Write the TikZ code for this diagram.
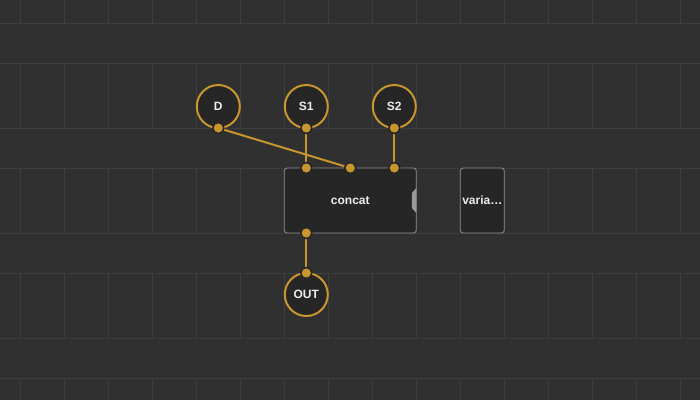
\documentclass[tikz,border=0pt]{standalone}
\usepackage{fontspec}
\setmainfont{Liberation Sans}
\usetikzlibrary{backgrounds}

\definecolor{board}{HTML}{303030}
\definecolor{gridline}{HTML}{3E3E3E}
\definecolor{gold}{HTML}{C8962E}
\definecolor{nodefill}{HTML}{262626}
\definecolor{label}{HTML}{EDEDED}
\definecolor{frame}{HTML}{8E8E8E}
\definecolor{tabgray}{HTML}{9A9A9A}

\pgfdeclarelayer{wires}
\pgfsetlayers{background,wires,main}

\begin{document}
\begin{tikzpicture}[x=1pt, y=-1pt,
  term/.style={circle, draw=gold, line width=2pt, fill=nodefill, minimum size=43pt,
    inner sep=0pt, text=label, font=\bfseries\fontsize{12}{14}\selectfont},
  patch/.style={rectangle, rounded corners=3pt, draw=frame, line width=0.8pt, fill=nodefill,
    minimum height=65pt, inner sep=0pt, text=label, font=\bfseries\fontsize{12}{14}\selectfont},
  pinpt/.style={circle, fill=gold, draw=nodefill, line width=1.5pt, minimum size=11pt, inner sep=0pt},
  wire/.style={gold, line width=2pt}]

\useasboundingbox (0,0) rectangle (700,400);

% Board
\begin{scope}[on background layer]
\fill[board] (0,0) rectangle (700,400);
\foreach \y in {23,63,128,168,233,273,338,378}
  \draw[gridline, line width=1pt] (0,\y) -- (700,\y);
\foreach \ya/\yb in {0/23,63/128,168/233,273/338,378/400}
  \foreach \k in {0,...,15}
    \draw[gridline, line width=1pt] ({20.3+44*\k},\ya) -- ({20.3+44*\k},\yb);
\end{scope}

% Terminals
\node[term] (D)  at (218.3,106.5) {D};
\node[term] (S1) at (306.3,106.5) {S1};
\node[term] (S2) at (394.3,106.5) {S2};
\node[term] (OUT) at (306.3,294.5) {OUT};

% Patch nodes
\node[patch, minimum width=132pt] (concat) at (350.3,200.5) {concat};
\fill[tabgray] (416.3,188) -- (411.8,193) -- (411.8,208) -- (416.3,213) -- cycle;
\node[patch, minimum width=44pt] (varia) at (482.3,200.5) {varia…};

% Pins
\node[pinpt] (dpin)  at (218.3,128) {};
\node[pinpt] (s1pin) at (306.3,128) {};
\node[pinpt] (s2pin) at (394.3,128) {};
\node[pinpt] (cin1)  at (306.3,168) {};
\node[pinpt] (cin2)  at (350.3,168) {};
\node[pinpt] (cin3)  at (394.3,168) {};
\node[pinpt] (cout)  at (306.3,233) {};
\node[pinpt] (opin)  at (306.3,273) {};

% Wires
\begin{pgfonlayer}{wires}
\draw[wire] (dpin) -- (cin2);
\draw[wire] (s1pin) -- (cin1);
\draw[wire] (s2pin) -- (cin3);
\draw[wire] (cout) -- (opin);
\end{pgfonlayer}

\end{tikzpicture}
\end{document}
